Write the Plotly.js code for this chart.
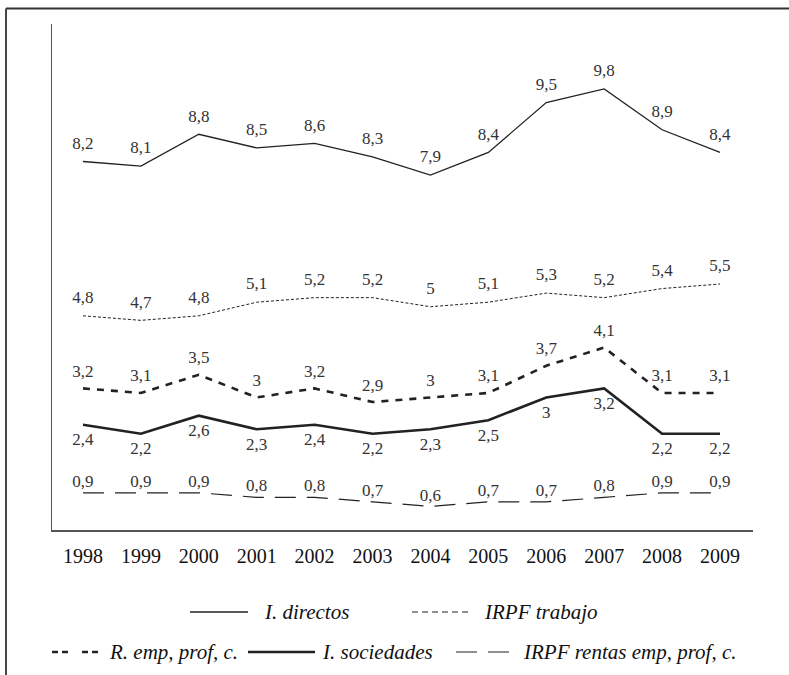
<!DOCTYPE html>
<html>
<head>
<meta charset="utf-8">
<script src="https://cdn.plot.ly/plotly-3.0.1.min.js"></script>
<style>
html,body{margin:0;padding:0;background:#fff;}
#chart{width:789px;height:675px;}
</style>
</head>
<body>
<div id="chart"></div>
<script>
var years = ['1998','1999','2000','2001','2002','2003','2004','2005','2006','2007','2008','2009'];
var iDirectos   = [8.2, 8.1, 8.8, 8.5, 8.6, 8.3, 7.9, 8.4, 9.5, 9.8, 8.9, 8.4];
var irpfTrabajo = [4.8, 4.7, 4.8, 5.1, 5.2, 5.2, 5.0, 5.1, 5.3, 5.2, 5.4, 5.5];
var rEmp        = [3.2, 3.1, 3.5, 3.0, 3.2, 2.9, 3.0, 3.1, 3.7, 4.1, 3.1, 3.1];
var iSociedades = [2.4, 2.2, 2.6, 2.3, 2.4, 2.2, 2.3, 2.5, 3.0, 3.2, 2.2, 2.2];
var irpfRentas  = [0.9, 0.9, 0.9, 0.8, 0.8, 0.7, 0.6, 0.7, 0.7, 0.8, 0.9, 0.9];
var seriesNames = ['I. directos', 'IRPF trabajo', 'R. emp, prof, c.', 'I. sociedades', 'IRPF rentas emp, prof, c.'];

var xIdx = years.map(function(_, i){ return i; });
function lbl(arr){ return arr.map(function(v){ return String(v).replace('.', ','); }); }

var FONT = 'Liberation Serif, DejaVu Serif, serif';
var INK = '#222';
var txtFont = {family: FONT, size: 17, color: '#333'};

function trace(name, y, width, dash, pos, msize){
  return {
    x: xIdx, y: y, type: 'scatter', mode: 'lines+markers+text',
    name: name,
    text: lbl(y), textposition: pos, textfont: txtFont,
    line: {color: INK, width: width, dash: dash},
    marker: {size: msize, color: 'rgba(0,0,0,0)'},
    hoverinfo: 'skip', cliponaxis: false, showlegend: false
  };
}

var data = [
  trace(seriesNames[0], iDirectos, 1.3, 'solid', 'top center', 12),
  trace(seriesNames[1], irpfTrabajo, 1, '3px,2px', 'top center', 12),
  trace(seriesNames[2], rEmp, 2.6, '7px,7px', 'top center', 10),
  trace(seriesNames[3], iSociedades, 2.6, 'solid', 'bottom center', 11),
  trace(seriesNames[4], irpfRentas, 1.2, '21px,11px', 'top center', 1)
];

// manual legend (two rows, like the reference)
var legendKeys = [
  {x0: 0.1969, x1: 0.2796, tx: 0.2996, y: -0.1621, w: 1.3, dash: 'solid'},
  {x0: 0.5136, x1: 0.5977, tx: 0.6134, y: -0.1621, w: 1.1, dash: '6px,4px'},
  {x0: 0.0000, x1: 0.0656, tx: 0.0785, y: -0.2411, w: 2.6, dash: '6px,4px,6px,14px'},
  {x0: 0.2796, x1: 0.3752, tx: 0.3823, y: -0.2411, w: 2.6, dash: 'solid'},
  {x0: 0.5763, x1: 0.6519, tx: 0.6690, y: -0.2411, w: 1.2, dash: '21px,11px'}
];

var shapes = [
  {type: 'line', xref: 'paper', yref: 'paper', x0: -0.0656, x1: 1.06, y0: 1.0306, y1: 1.0306,
   line: {color: '#333', width: 1.8}},
  {type: 'line', xref: 'paper', yref: 'paper', x0: -0.0656, x1: -0.0656, y0: 1.0306, y1: -0.30,
   line: {color: '#333', width: 1.8}}
];
var annotations = [];
legendKeys.forEach(function(k, i){
  shapes.push({type: 'line', xref: 'paper', yref: 'paper', x0: k.x0, x1: k.x1, y0: k.y, y1: k.y,
               line: {color: INK, width: k.w, dash: k.dash}});
  annotations.push({xref: 'paper', yref: 'paper', x: k.tx, y: k.y, xanchor: 'left', yanchor: 'middle',
                    text: '<i>' + seriesNames[i] + '</i>', showarrow: false,
                    font: {family: FONT, size: 21, color: '#111'}});
});

var layout = {
  width: 789, height: 675,
  margin: {l: 52, r: 36, t: 24, b: 145},
  paper_bgcolor: '#fff', plot_bgcolor: '#fff',
  showlegend: false,
  xaxis: {
    range: [-0.535, 11.57], tickmode: 'array', tickvals: xIdx, ticktext: years,
    showgrid: false, zeroline: false, showline: true, linecolor: '#555', linewidth: 1.5,
    ticks: '', ticklabelstandoff: 7,
    tickfont: {family: FONT, size: 20, color: '#111'}, fixedrange: true
  },
  yaxis: {
    range: [0.08, 11.23], showgrid: false, zeroline: false, showline: true,
    linecolor: '#555', linewidth: 1.5, showticklabels: false, ticks: '', fixedrange: true
  },
  shapes: shapes,
  annotations: annotations
};

Plotly.newPlot('chart', data, layout, {displayModeBar: false, staticPlot: true});
</script>
</body>
</html>
